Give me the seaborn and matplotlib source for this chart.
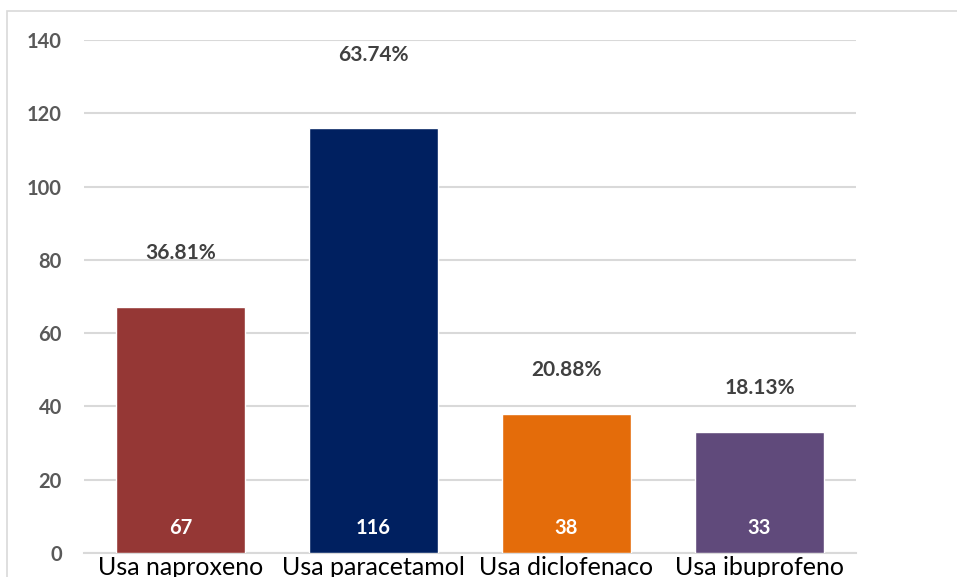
import matplotlib
matplotlib.use("Agg")
import matplotlib.pyplot as plt
import seaborn as sns
import pandas as pd
from matplotlib.patches import Rectangle

# ── Data ──────────────────────────────────────────────────────────────────────
categories = ["Usa naproxeno", "Usa paracetamol", "Usa diclofenaco", "Usa ibuprofeno"]
counts     = [67, 116, 38, 33]
percents   = ["36.81%", "63.74%", "20.88%", "18.13%"]
colors     = ["#953735", "#002060", "#E46C0A", "#604A7B"]

# vertical gap (data units) between bar top and percent label
pct_offset = [15, 20, 12, 12]

df = pd.DataFrame({"categoria": categories, "n": counts})

sns.set_theme(style="white")
plt.rcParams["font.family"] = ["Lato", "DejaVu Sans"]

fig = plt.figure(figsize=(9.57, 5.77), dpi=100)
ax = fig.add_axes([84 / 957, 24 / 577, 772 / 957, 513 / 577])

sns.barplot(data=df, x="categoria", y="n", hue="categoria", palette=colors,
            width=0.67, saturation=1, legend=False, ax=ax, zorder=3)

ax.set_xlim(-0.5, 3.5)
ax.set_ylim(0, 140)
ax.set_yticks(range(0, 141, 20))
ax.yaxis.grid(True, color="#D9D9D9", linewidth=1.5, zorder=0)
ax.xaxis.grid(False)
for side in ["top", "right", "left"]:
    ax.spines[side].set_visible(False)
ax.spines["bottom"].set_color("#D9D9D9")
ax.spines["bottom"].set_linewidth(1.5)

ax.set_xlabel("")
ax.set_ylabel("")
ax.tick_params(axis="y", length=0, pad=16, labelsize=14.5, labelcolor="#595959")
ax.tick_params(axis="x", length=0, pad=2, labelsize=18, labelcolor="#000000")
for lbl in ax.get_yticklabels():
    lbl.set_fontweight("bold")

for i, (val, pct) in enumerate(zip(counts, percents)):
    ax.text(i, 6.8, str(val), ha="center", va="center", color="white",
            fontsize=14.5, fontweight="bold", zorder=4)
    ax.text(i, val + pct_offset[i], pct, ha="center", va="center", color="#404040",
            fontsize=15, fontweight="bold", zorder=4)

# outer chart border (cut off at right/bottom like the source)
fig.patches.append(Rectangle((7 / 957, -0.1), 1.2, 1 - 11 / 577 + 0.1,
                             transform=fig.transFigure, fill=False,
                             edgecolor="#D9D9D9", linewidth=1.2))

fig.savefig("out.png", dpi=100)
